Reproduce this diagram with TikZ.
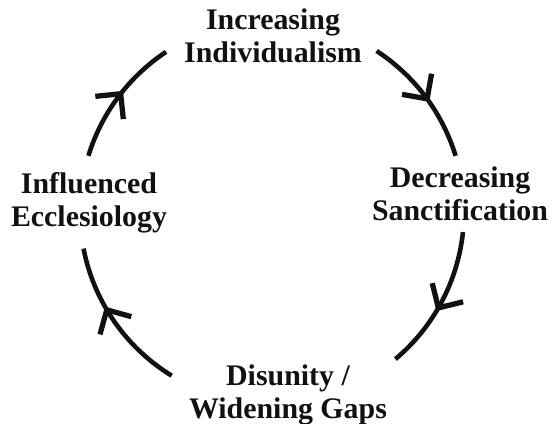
\documentclass[tikz,border=0pt]{standalone}
\usepackage{fontspec}
\setmainfont{Liberation Serif}
\usetikzlibrary{arrows.meta,decorations.markings}
\definecolor{ink}{HTML}{111111}

\begin{document}
\begin{tikzpicture}[x=1cm,y=1cm,
    stage/.style={font=\bfseries\fontsize{17}{18.8}\selectfont,
                  align=center,text=ink,inner sep=2pt},
    cyclearc/.style={ink,line width=2.6pt,postaction={decorate},
      decoration={markings,mark=at position #1 with
        {\arrow[line width=3pt]{Straight Barb[angle=90:14.5pt]}}}}]
  \useasboundingbox (0,0) rectangle (11.06,8.46);
  % the four stages sit round one circle, centre hub
  \coordinate (hub) at (5.44,4.22);
  \node[stage] (incr)  at (5.46,7.74) {Increasing\\Individualism};
  \node[stage] (decr)  at (9.20,4.58) {Decreasing\\Sanctification};
  \node[stage] (disun) at (5.76,0.56) {Disunity /\\Widening Gaps};
  \node[stage] (influ) at (1.78,4.40) {Influenced\\Ecclesiology};

  \draw[cyclearc=0.55] ([shift={(57:3.84)}]hub)
    arc[start angle=57,end angle=17,radius=3.84];
  \draw[cyclearc=0.57] ([shift={(-6:3.84)}]hub)
    arc[start angle=-6,end angle=-50,radius=3.84];
  \draw[cyclearc=0.61] ([shift={(238.5:3.84)}]hub)
    arc[start angle=238.5,end angle=191,radius=3.84];
  \draw[cyclearc=0.56] ([shift={(163:3.84)}]hub)
    arc[start angle=163,end angle=123.5,radius=3.84];
\end{tikzpicture}
\end{document}
